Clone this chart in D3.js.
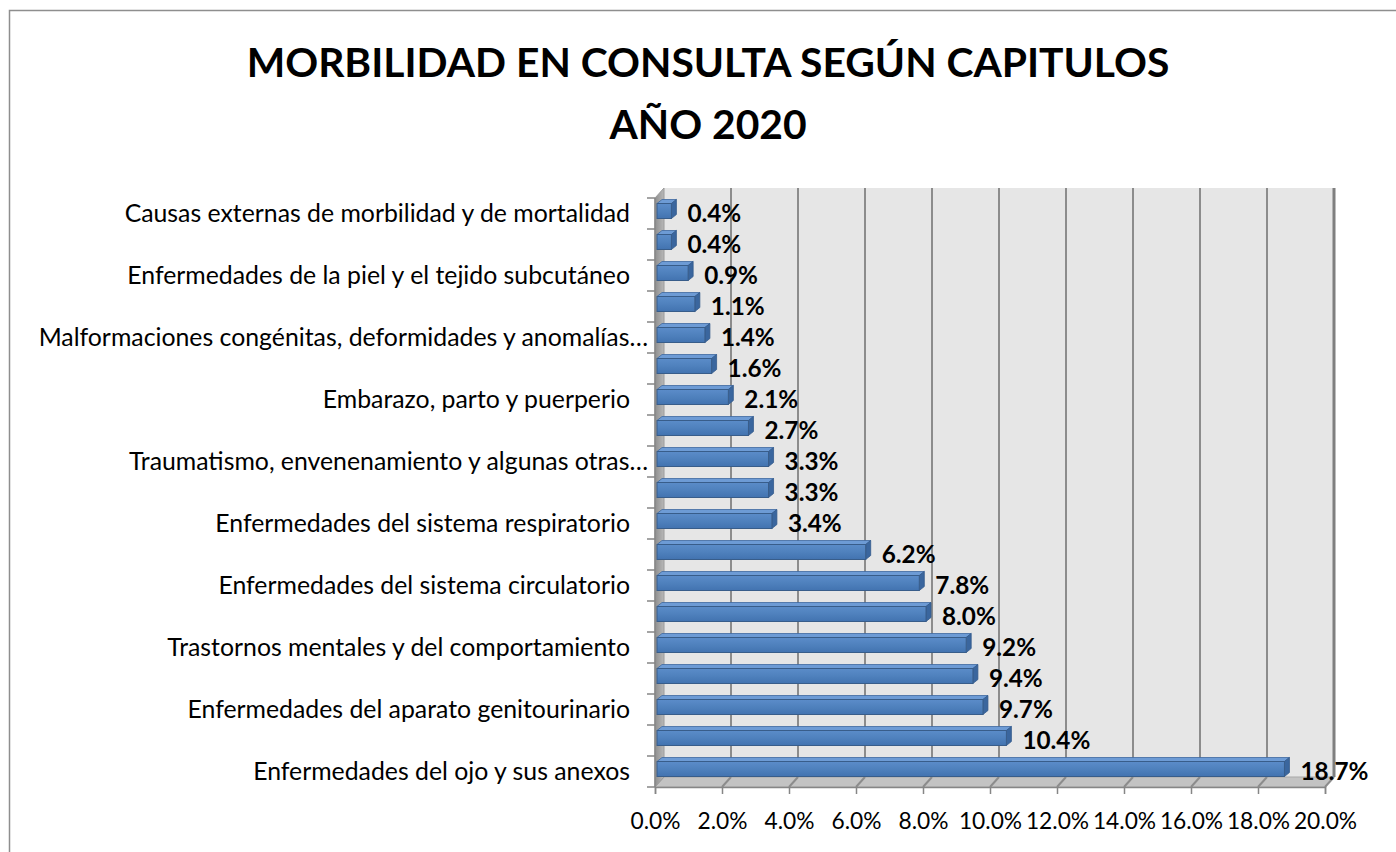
<!DOCTYPE html>
<html>
<head>
<meta charset="utf-8">
<script src="https://cdn.jsdelivr.net/npm/d3@7"></script>
<style>
  body { margin: 0; background: #fff; }
  svg { display: block; }
</style>
</head>
<body>
<div id="chart"></div>
<script>
// categories listed from the bottom bar upwards
const categories = [
  "Enfermedades del ojo y sus anexos",
  "Factores que influyen en el estado de salud",
  "Enfermedades del aparato genitourinario",
  "Enfermedades endocrinas, nutricionales y metabólicas",
  "Trastornos mentales y del comportamiento",
  "Enfermedades del sistema osteomuscular",
  "Enfermedades del sistema circulatorio",
  "Enfermedades del aparato digestivo",
  "Enfermedades del sistema respiratorio",
  "Enfermedades del sistema nervioso",
  "Traumatismo, envenenamiento y algunas otras consecuencias de causas externas",
  "Ciertas enfermedades infecciosas y parasitarias",
  "Embarazo, parto y puerperio",
  "Tumores",
  "Malformaciones congénitas, deformidades y anomalías cromosómicas",
  "Enfermedades del oído y de la apófisis mastoides",
  "Enfermedades de la piel y el tejido subcutáneo",
  "Enfermedades de la sangre y de los órganos hematopoyéticos",
  "Causas externas de morbilidad y de mortalidad",
];
const values = [18.7, 10.4, 9.7, 9.4, 9.2, 8.0, 7.8, 6.2, 3.4, 3.3, 3.3, 2.7, 2.1, 1.6, 1.4, 1.1, 0.9, 0.4, 0.4];
const xTicks = [0, 2, 4, 6, 8, 10, 12, 14, 16, 18, 20];
const titleLines = ["MORBILIDAD EN CONSULTA SEGÚN CAPITULOS", "AÑO 2020"];

const width = 1396;
const height = 852;
const plot = { left: 655, right: 1325, top: 198, bottom: 787 };
const depth = { dx: 9, dy: -10 };
const fontFamily = "Lato, 'Open Sans', sans-serif";

const svg = d3
  .select("#chart")
  .append("svg")
  .attr("width", width)
  .attr("height", height);

// pick a font size so that a sample string has the width seen in the picture
const measure = (str, weight, size) => {
  const t = svg
    .append("text")
    .attr("font-family", fontFamily)
    .attr("font-weight", weight)
    .attr("font-size", size)
    .text(str);
  const w = t.node().getComputedTextLength();
  t.remove();
  return w;
};
const fitFont = (sample, weight, targetWidth) =>
  (100 * targetWidth) / measure(sample, weight, 100);

const titleSize = fitFont(titleLines[0], "bold", 923);
const catSize = fitFont("Enfermedades del ojo y sus anexos", "normal", 377);
const tickSize = fitFont("2.0%", "normal", 50);
const labelSize = fitFont("18.7%", "bold", 68);

const data = categories.map((c, i) => ({ cat: c, value: values[i], idx: i }));

const x = d3.scaleLinear().domain([0, 20]).range([plot.left, plot.right]);
const y = d3
  .scaleBand()
  .domain(categories)
  .range([plot.bottom, plot.top]);

// outer chart frame
svg
  .append("rect")
  .attr("x", 9.5)
  .attr("y", 10.5)
  .attr("width", 1500)
  .attr("height", 1000)
  .attr("fill", "none")
  .attr("stroke", "#8e8e8e")
  .attr("stroke-width", 1.5);

// title
svg
  .append("g")
  .selectAll("text")
  .data(titleLines)
  .join("text")
  .attr("x", 708)
  .attr("y", (d, i) => 77 + i * 62)
  .attr("text-anchor", "middle")
  .attr("font-family", fontFamily)
  .attr("font-weight", "bold")
  .attr("font-size", titleSize)
  .text((d) => d);

const defs = svg.append("defs");
const wallGrad = defs
  .append("linearGradient")
  .attr("id", "sideWall")
  .attr("x1", 0)
  .attr("x2", 1)
  .attr("y1", 0)
  .attr("y2", 0);
wallGrad.append("stop").attr("offset", 0).attr("stop-color", "#8f8f8f");
wallGrad.append("stop").attr("offset", 1).attr("stop-color", "#b8b8b8");

const barGrad = defs
  .append("linearGradient")
  .attr("id", "barFront")
  .attr("x1", 0)
  .attr("x2", 0)
  .attr("y1", 0)
  .attr("y2", 1);
barGrad.append("stop").attr("offset", 0).attr("stop-color", "#5b8cc9");
barGrad.append("stop").attr("offset", 0.5).attr("stop-color", "#4f81bd");
barGrad.append("stop").attr("offset", 1).attr("stop-color", "#4273b0");

// 3d box: back wall, side wall, floor
const back = {
  x0: x(0) + depth.dx,
  x1: x(20) + depth.dx,
  y0: plot.top + depth.dy,
  y1: plot.bottom + depth.dy,
};
const box = svg.append("g");
box
  .append("rect")
  .attr("x", back.x0)
  .attr("y", back.y0)
  .attr("width", back.x1 - back.x0)
  .attr("height", back.y1 - back.y0)
  .attr("fill", "#e6e6e6");

box
  .append("polygon")
  .attr(
    "points",
    [
      [x(0), plot.bottom],
      [x(20), plot.bottom],
      [back.x1, back.y1],
      [back.x0, back.y1],
    ].join(" ")
  )
  .attr("fill", "#c3c3c3")
  .attr("stroke", "#a9a9a9")
  .attr("stroke-width", 1);

// gridlines on back wall and floor
const grid = box.append("g");
xTicks
  .filter((t) => t > 0)
  .forEach((t) => {
    const last = t === 20;
    grid
      .append("line")
      .attr("x1", x(t) + depth.dx)
      .attr("x2", x(t) + depth.dx)
      .attr("y1", back.y0)
      .attr("y2", back.y1)
      .attr("stroke", last ? "#7f7f7f" : "#8c8c8c")
      .attr("stroke-width", last ? 3 : 2);
    grid
      .append("line")
      .attr("x1", x(t) + depth.dx)
      .attr("y1", back.y1)
      .attr("x2", x(t))
      .attr("y2", plot.bottom)
      .attr("stroke", "#8c8c8c")
      .attr("stroke-width", 2);
  });

box
  .append("polygon")
  .attr(
    "points",
    [
      [x(0), plot.top],
      [back.x0, back.y0],
      [back.x0, back.y1],
      [x(0), plot.bottom],
    ].join(" ")
  )
  .attr("fill", "url(#sideWall)")
  .attr("stroke", "#9a9a9a")
  .attr("stroke-width", 1);

// bars
const bd = { dx: 5, dy: -4 };
const bars = svg
  .append("g")
  .selectAll("g")
  .data(data)
  .join("g");

const barGeom = (d) => {
  const yc = y(d.cat) + y.bandwidth() / 2;
  return {
    x0: x(0) + 2,
    x1: x(d.value) + 3,
    yt: yc - 10,
    yb: yc + 5,
  };
};

bars
  .append("polygon")
  .attr("points", (d) => {
    const g = barGeom(d);
    return [
      [g.x0, g.yt],
      [g.x0 + bd.dx, g.yt + bd.dy],
      [g.x1 + bd.dx, g.yt + bd.dy],
      [g.x1, g.yt],
    ].join(" ");
  })
  .attr("fill", "#6d9bd5")
  .attr("stroke", "#3f68a0")
  .attr("stroke-width", 0.8);

bars
  .append("polygon")
  .attr("points", (d) => {
    const g = barGeom(d);
    return [
      [g.x1, g.yt],
      [g.x1 + bd.dx, g.yt + bd.dy],
      [g.x1 + bd.dx, g.yb + bd.dy],
      [g.x1, g.yb],
    ].join(" ");
  })
  .attr("fill", "#3a669e")
  .attr("stroke", "#345a8c")
  .attr("stroke-width", 0.8);

bars
  .append("rect")
  .attr("x", (d) => barGeom(d).x0)
  .attr("y", (d) => barGeom(d).yt)
  .attr("width", (d) => barGeom(d).x1 - barGeom(d).x0)
  .attr("height", (d) => barGeom(d).yb - barGeom(d).yt)
  .attr("fill", "url(#barFront)")
  .attr("stroke", "#385d8a")
  .attr("stroke-width", 1);

// value labels
svg
  .append("g")
  .selectAll("text")
  .data(data)
  .join("text")
  .attr("x", (d) => x(d.value) + 19)
  .attr("y", (d) => y(d.cat) + y.bandwidth() / 2 + labelSize * 0.36)
  .attr("font-family", fontFamily)
  .attr("font-weight", "bold")
  .attr("font-size", labelSize)
  .attr("fill", "#000")
  .text((d) => d3.format(".1f")(d.value) + "%");

// long names are cut at a word boundary, like the original chart
const maxLabelWidth = 625;
const shortLabel = (name) => {
  if (measure(name, "normal", catSize) <= maxLabelWidth) return { text: name, cut: false };
  const words = name.split(" ");
  while (words.length > 1) {
    words.pop();
    const s = words.join(" ") + "…";
    if (measure(s, "normal", catSize) <= maxLabelWidth) return { text: s, cut: true };
  }
  return { text: name, cut: false };
};

// left (category) axis: ticks at band edges, every other label shown
const axisColor = "#868686";
const leftAxis = svg.append("g");
leftAxis
  .append("line")
  .attr("x1", x(0))
  .attr("x2", x(0))
  .attr("y1", plot.top)
  .attr("y2", plot.bottom)
  .attr("stroke", axisColor)
  .attr("stroke-width", 1.5);
leftAxis
  .selectAll(".cat-tick")
  .data(categories.concat([null]))
  .join("line")
  .attr("class", "cat-tick")
  .attr("x1", x(0) - 8)
  .attr("x2", x(0))
  .attr("y1", (d, i) => plot.bottom - i * y.step())
  .attr("y2", (d, i) => plot.bottom - i * y.step())
  .attr("stroke", axisColor)
  .attr("stroke-width", 1.5);
leftAxis
  .selectAll(".cat-label")
  .data(data.filter((d) => d.idx % 2 === 0).map((d) => ({ ...d, ...shortLabel(d.cat) })))
  .join("text")
  .attr("class", "cat-label")
  .attr("x", (d) => (d.cut ? 648 : 630))
  .attr("y", (d) => y(d.cat) + y.bandwidth() / 2 + catSize * 0.36)
  .attr("text-anchor", "end")
  .attr("font-family", fontFamily)
  .attr("font-size", catSize)
  .attr("fill", "#000")
  .text((d) => d.text);

// bottom (value) axis
const bottomAxis = svg
  .append("g")
  .attr("transform", `translate(0, ${plot.bottom})`)
  .call(
    d3
      .axisBottom(x)
      .tickValues(xTicks)
      .tickSize(7)
      .tickPadding(19)
      .tickFormat((d) => d3.format(".1f")(d) + "%")
  );
bottomAxis.select(".domain").attr("stroke", axisColor).attr("stroke-width", 1.5);
bottomAxis.selectAll(".tick line").attr("stroke", axisColor).attr("stroke-width", 1.5);
bottomAxis
  .selectAll(".tick text")
  .attr("font-family", fontFamily)
  .attr("font-size", tickSize)
  .attr("fill", "#000");
</script>
</body>
</html>
